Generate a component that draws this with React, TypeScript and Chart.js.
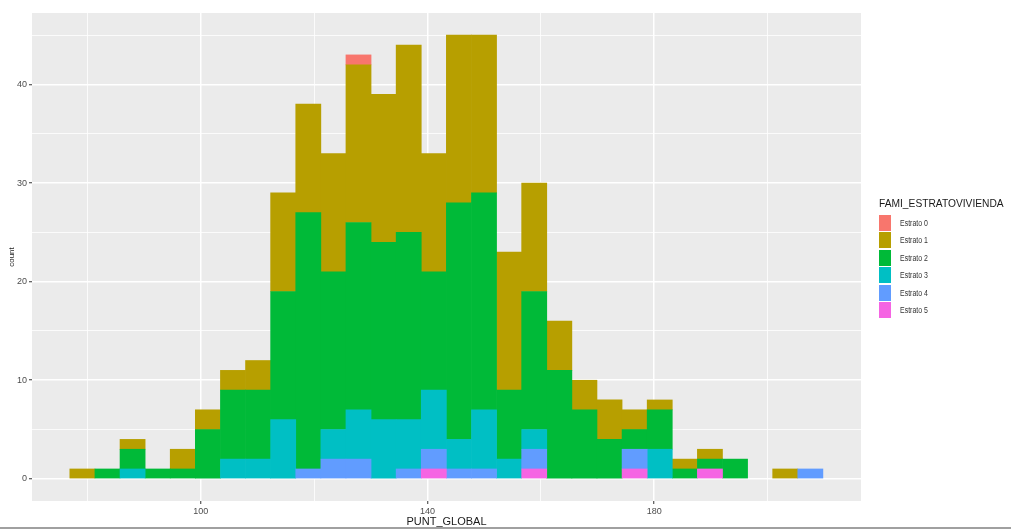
import React, { useEffect, useRef } from "react";
import { Chart, registerables } from "chart.js";

Chart.register(...registerables);

// Histogram bins of PUNT_GLOBAL (bin centres, width ≈ 4.43)
const binCenters = [
  79.09, 83.52, 87.95, 92.38, 96.81, 101.24, 105.67, 110.1, 114.53, 118.96,
  123.39, 127.82, 132.25, 136.68, 141.11, 145.54, 149.97, 154.4, 158.83, 163.26,
  167.69, 172.12, 176.55, 180.98, 185.41, 189.84, 194.27, 198.7, 203.13, 207.56,
];

// Counts per stratum in each bin
const estrato0 = [0,0,0,0,0,0,0,0,0,0,0,1,0,0,0,0,0,0,0,0,0,0,0,0,0,0,0,0,0,0];
const estrato1 = [1,0,1,0,2,2,2,3,10,11,12,16,15,19,12,17,16,14,11,5,3,4,2,1,1,1,0,0,1,0];
const estrato2 = [0,1,2,1,1,5,7,7,13,26,16,19,18,19,12,24,22,7,14,11,7,4,2,4,1,1,2,0,0,0];
const estrato3 = [0,0,1,0,0,0,2,2,6,0,3,5,6,5,6,3,6,2,2,0,0,0,0,3,0,0,0,0,0,0];
const estrato4 = [0,0,0,0,0,0,0,0,0,1,2,2,0,1,2,1,1,0,2,0,0,0,2,0,0,0,0,0,0,1];
const estrato5 = [0,0,0,0,0,0,0,0,0,0,0,0,0,0,1,0,0,0,1,0,0,0,1,0,0,1,0,0,0,0];

const seriesNames = ["Estrato 0", "Estrato 1", "Estrato 2", "Estrato 3", "Estrato 4", "Estrato 5"];
const seriesValues = [estrato0, estrato1, estrato2, estrato3, estrato4, estrato5];
const seriesColors = ["#F8766D", "#B79F00", "#00BA38", "#00BFC4", "#619CFF", "#F564E3"];

const xGridValues = [80, 100, 120, 140, 160, 180, 200];
const xLabelValues = [100, 140, 180];
const yGridValues = [0, 5, 10, 15, 20, 25, 30, 35, 40, 45];
const yLabelValues = [0, 10, 20, 30, 40];

const xTitle = "PUNT_GLOBAL";
const yTitle = "count";
const legendTitle = "FAMI_ESTRATOVIVIENDA";

const FONT = "'Liberation Sans', Arial, Helvetica, sans-serif";

const panelBg = {
  id: "panelBg",
  beforeDraw(chart: any) {
    const { ctx, chartArea } = chart;
    const { left, top, right, bottom } = chartArea;
    ctx.save();
    ctx.fillStyle = "#EBEBEB";
    ctx.fillRect(left, top, right - left, bottom - top);
    ctx.restore();
  },
};

export default function App() {
  const canvasRef = useRef<HTMLCanvasElement | null>(null);

  useEffect(() => {
    if (!canvasRef.current) return;
    Chart.defaults.font.family = FONT;

    // stack bottom-first: Estrato 5 at the bottom, Estrato 0 on top
    const order = [5, 4, 3, 2, 1, 0];
    const datasets = order.map((k) => ({
      label: seriesNames[k],
      data: binCenters.map((x, i) => ({ x, y: seriesValues[k][i] === 0 ? null : seriesValues[k][i] })),
      backgroundColor: seriesColors[k],
      borderWidth: 0,
      barPercentage: 1,
      categoryPercentage: 1,
    }));

    const majorX = (v: number) => xLabelValues.includes(v);
    const majorY = (v: number) => yLabelValues.includes(v);

    const chart = new Chart(canvasRef.current, {
      type: "bar",
      data: { datasets } as any,
      plugins: [panelBg],
      options: {
        animation: false,
        responsive: false,
        layout: { padding: { left: 0, right: 150, top: 13, bottom: 0 } },
        plugins: {
          legend: { display: false },
          tooltip: { enabled: false },
          title: { display: false },
        },
        scales: {
          x: {
            type: "linear",
            stacked: true,
            offset: false,
            min: 70.2,
            max: 216.5,
            afterBuildTicks: (scale: any) => {
              scale.ticks = xGridValues.map((v) => ({ value: v }));
            },
            afterFit: (scale: any) => {
              scale.height = 28;
            },
            border: { display: false },
            grid: {
              offset: false,
              color: "#FFFFFF",
              lineWidth: (ctx: any) => (ctx.tick && majorX(ctx.tick.value) ? 1.5 : 0.8),
              tickColor: (ctx: any) => (ctx.tick && majorX(ctx.tick.value) ? "#333333" : "rgba(0,0,0,0)"),
              tickLength: 3,
              tickWidth: 1,
            },
            ticks: {
              autoSkip: false,
              maxRotation: 0,
              padding: 2,
              color: "#4D4D4D",
              font: { size: 9 },
              callback: (v: any) => (xLabelValues.includes(Number(v)) ? String(v) : ""),
            },
            title: {
              display: true,
              text: xTitle,
              color: "#1A1A1A",
              font: { size: 11 },
              padding: { top: 0, bottom: 0 },
            },
          },
          y: {
            type: "linear",
            stacked: true,
            min: -2.25,
            max: 47.25,
            afterBuildTicks: (scale: any) => {
              scale.ticks = yGridValues.map((v) => ({ value: v }));
            },
            afterFit: (scale: any) => {
              scale.width = 32;
            },
            border: { display: false },
            grid: {
              color: "#FFFFFF",
              lineWidth: (ctx: any) => (ctx.tick && majorY(ctx.tick.value) ? 1.5 : 0.8),
              tickColor: (ctx: any) => (ctx.tick && majorY(ctx.tick.value) ? "#333333" : "rgba(0,0,0,0)"),
              tickLength: 3,
              tickWidth: 1,
            },
            ticks: {
              autoSkip: false,
              padding: 2,
              color: "#4D4D4D",
              font: { size: 9 },
              callback: (v: any) => (yLabelValues.includes(Number(v)) ? String(v) : ""),
            },
            title: {
              display: true,
              text: yTitle,
              color: "#1A1A1A",
              font: { size: 8 },
              padding: { top: 7, bottom: 0 },
            },
          },
        },
      } as any,
    });

    return () => chart.destroy();
  }, []);

  const rowH = 17.5;
  const firstTop = 214.5;

  return (
    <div
      style={{
        position: "fixed",
        left: 0,
        top: 0,
        width: 1011,
        height: 529,
        background: "#FFFFFF",
        overflow: "hidden",
        fontFamily: FONT,
      }}
    >
      <canvas ref={canvasRef} width={1011} height={529} style={{ position: "absolute", left: 0, top: 0 }} />
      <div
        style={{
          position: "absolute",
          left: 879,
          top: 197,
          fontSize: 11,
          lineHeight: "13px",
          color: "#1A1A1A",
          whiteSpace: "nowrap",
          transform: "scaleX(0.93)",
          transformOrigin: "left center",
        }}
      >
        {legendTitle}
      </div>
      {seriesNames.map((name, i) => (
        <div key={name}>
          <div
            style={{
              position: "absolute",
              left: 879,
              top: firstTop + i * rowH,
              width: 11.5,
              height: 16,
              background: seriesColors[i],
            }}
          />
          <div
            style={{
              position: "absolute",
              left: 900,
              top: firstTop + i * rowH + 2,
              fontSize: 8.5,
              lineHeight: "12px",
              color: "#333333",
              whiteSpace: "nowrap",
              transform: "scaleX(0.82)",
              transformOrigin: "left center",
            }}
          >
            {name}
          </div>
        </div>
      ))}
      <div style={{ position: "absolute", left: 0, top: 527, width: 1011, height: 1.5, background: "#A0A0A0" }} />
    </div>
  );
}
